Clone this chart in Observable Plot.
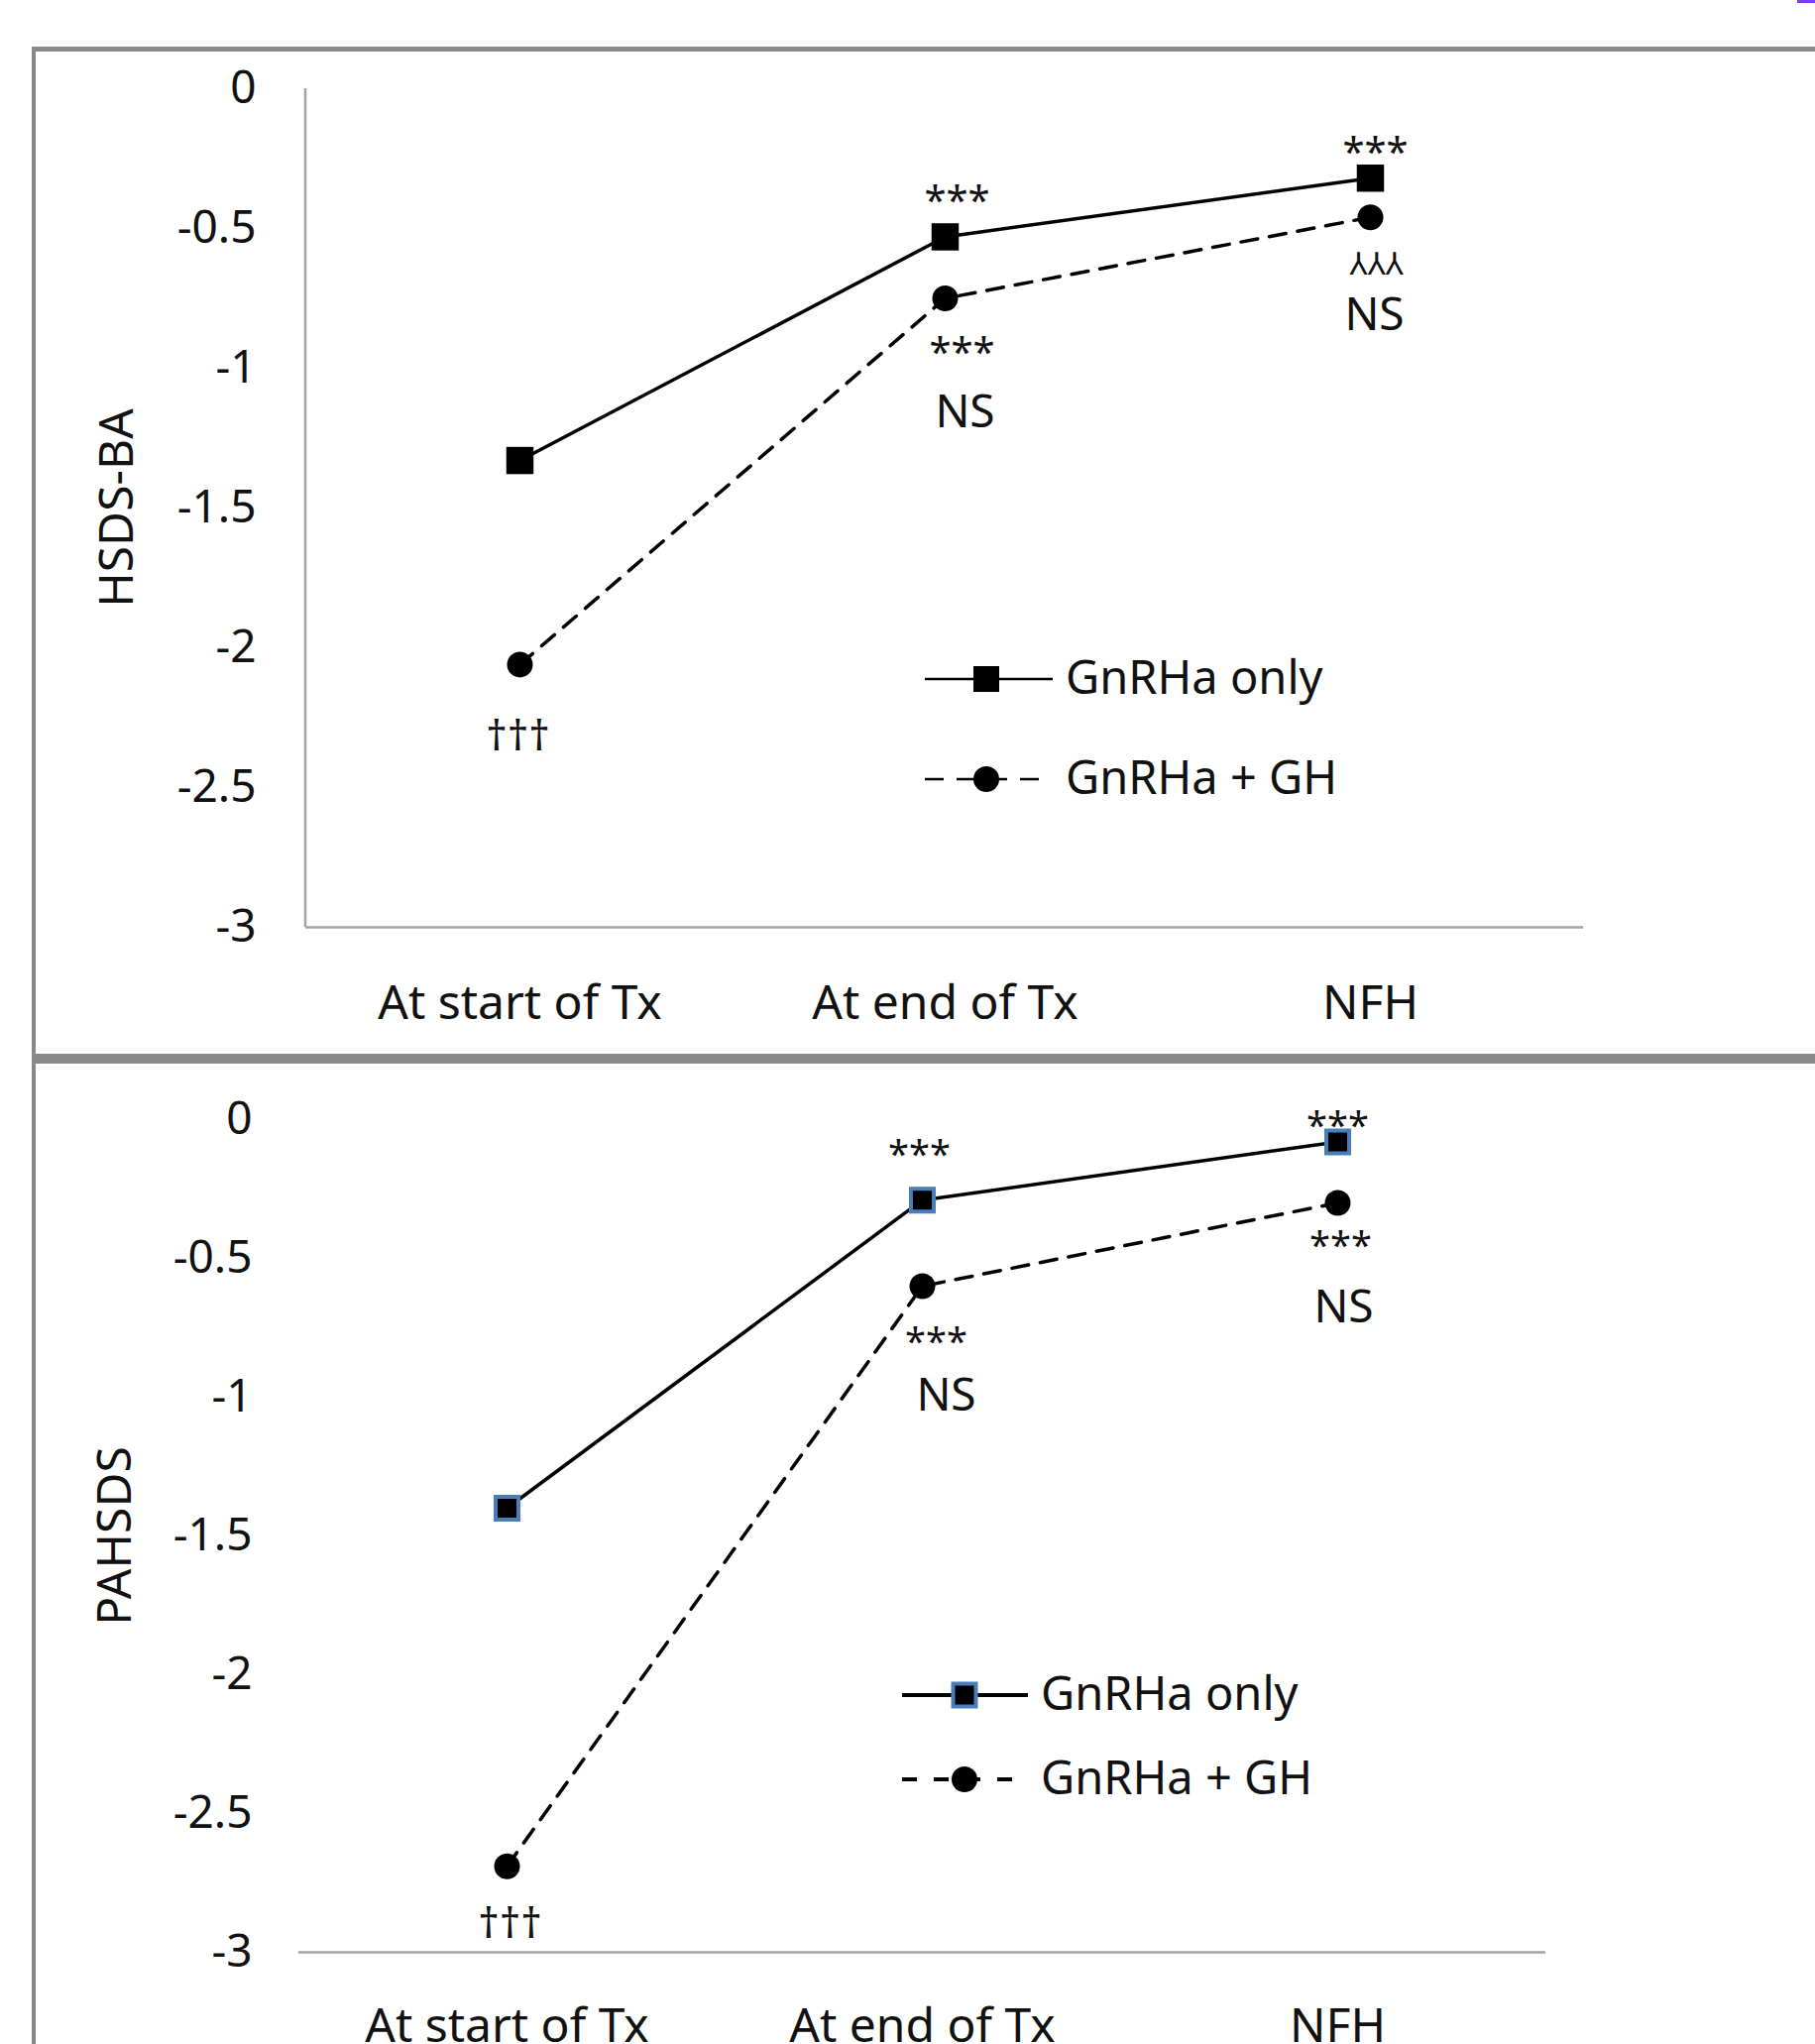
<!DOCTYPE html>
<html>
<head>
<meta charset="utf-8">
<script src="https://cdn.jsdelivr.net/npm/d3@7"></script>
<script src="https://cdn.jsdelivr.net/npm/@observablehq/plot@0.6"></script>
<style>
  html, body { margin: 0; padding: 0; background: #fff; width: 1831px; height: 2062px; overflow: hidden; }
  #page { position: relative; width: 1831px; height: 2062px; font-family: "Noto Sans", "DejaVu Sans", sans-serif; }
  .abs { position: absolute; }
  .frame { position: absolute; background: #898989; z-index: 3; }
</style>
</head>
<body>
<div id="page"></div>
<script>
// ---------------- data ----------------
const categories = ["At start of Tx", "At end of Tx", "NFH"];
const seriesNames = ["GnRHa only", "GnRHa + GH"];
const yTicks = [0, -0.5, -1, -1.5, -2, -2.5, -3];

// Panel 1: HSDS-BA
const hsdsTitle = "HSDS-BA";
const hsdsOnly = [-1.33, -0.53, -0.32];
const hsdsGH = [-2.06, -0.75, -0.46];
const hsdsOnlyAbove = ["", "***", "***"];
const hsdsGHBelow = ["†††", "***", "⅄⅄⅄"];
const hsdsGHNote = ["", "NS", "NS"];

// Panel 2: PAHSDS
const pahsdsTitle = "PAHSDS";
const pahsdsOnly = [-1.40, -0.29, -0.08];
const pahsdsGH = [-2.69, -0.60, -0.30];
const pahsdsOnlyAbove = ["", "***", "***"];
const pahsdsGHBelow = ["†††", "***", "***"];
const pahsdsGHNote = ["", "NS", "NS"];

// ---------------- helpers ----------------
const FONT = '"Noto Sans", "DejaVu Sans", sans-serif';
const INK = "#111";
const AXIS = "#a3a3a3";
const W = 1831;
const page = document.getElementById("page");

function rowsOf(only, gh, above, below, note) {
  return categories.map((cat, i) => ({cat, only: only[i], gh: gh[i], above: above[i], below: below[i], note: note[i]}));
}

function note(rows, yKey, textKey, cat, dx, dy, size) {
  return Plot.text(rows, {
    filter: d => d.cat === cat && d[textKey] !== "",
    x: "cat", y: yKey, text: textKey, dx, dy,
    fontSize: size, fill: INK, fontFamily: FONT
  });
}

function yAxisLine(index, scales, values, dims) {
  const l = document.createElementNS("http://www.w3.org/2000/svg", "line");
  l.setAttribute("x1", dims.marginLeft);
  l.setAttribute("x2", dims.marginLeft);
  l.setAttribute("y1", scales.y(0));
  l.setAttribute("y2", scales.y(-3));
  l.setAttribute("stroke", AXIS);
  l.setAttribute("stroke-width", 2.5);
  return l;
}

function panel(cfg) {
  const rows = cfg.rows;
  const marks = [
    Plot.ruleY([-3], {stroke: AXIS, strokeWidth: 2.5}),
    Plot.axisY({ticks: yTicks, tickSize: 0, tickPadding: cfg.tickPadY, tickFormat: d => String(d), fontSize: 46, fill: INK, label: null}),
    Plot.axisX({tickSize: 0, tickPadding: cfg.tickPadX, fontSize: 48, fill: INK, label: null}),
    Plot.text([cfg.title], {frameAnchor: "left", textAnchor: "middle", rotate: -90, dx: cfg.titleDx, text: d => d, fontSize: 48, fill: INK}),
    Plot.line(rows, {x: "cat", y: "only", stroke: "black", strokeWidth: 3.5}),
    Plot.line(rows, {x: "cat", y: "gh", stroke: "black", strokeWidth: 3.5, strokeDasharray: "17,12"}),
    Plot.dot(rows, {x: "cat", y: "gh", symbol: "circle", r: 13, fill: "black", stroke: "none"}),
    Plot.dot(rows, {x: "cat", y: "only", symbol: "square", r: cfg.squareR, fill: "black",
      stroke: cfg.squareStroke || "none", strokeWidth: cfg.squareStroke ? 4 : 0}),
    ...cfg.notes(rows)
  ];
  if (cfg.showYLine) marks.unshift(yAxisLine);
  const chart = Plot.plot({
    width: W, height: cfg.height,
    marginTop: cfg.mt, marginBottom: cfg.mb, marginLeft: cfg.ml, marginRight: cfg.mr,
    style: {fontFamily: FONT, fontSize: "46px", color: INK, background: "transparent", overflow: "visible"},
    x: {type: "point", domain: categories, padding: 0.5},
    y: {domain: [-3, 0]},
    marks
  });
  const wrap = document.createElement("div");
  wrap.className = "abs";
  wrap.style.left = "0px";
  wrap.style.top = cfg.top + "px";
  wrap.appendChild(chart);
  page.appendChild(wrap);
}

function legend(cfg) {
  const svg = d3.select(page).append("svg")
    .attr("class", "abs").attr("width", 520).attr("height", 200)
    .style("left", cfg.left + "px").style("top", cfg.top + "px").style("overflow", "visible");
  // row 1 : solid + square
  const r1 = 40, r2 = 40 + cfg.gap;
  svg.append("line").attr("x1", 0).attr("x2", cfg.lineLen).attr("y1", r1).attr("y2", r1)
    .attr("stroke", "black").attr("stroke-width", cfg.lw);
  svg.append("rect").attr("x", cfg.markX - cfg.sq / 2).attr("y", r1 - cfg.sq / 2)
    .attr("width", cfg.sq).attr("height", cfg.sq).attr("fill", "black")
    .attr("stroke", cfg.squareStroke || "none").attr("stroke-width", cfg.squareStroke ? 4 : 0);
  svg.append("text").attr("x", cfg.textX).attr("y", r1).attr("dy", "0.32em")
    .attr("font-family", FONT).attr("font-size", 47).attr("fill", INK).text(seriesNames[0]);
  // row 2 : dashed + circle
  svg.append("line").attr("x1", 0).attr("x2", cfg.dashLen).attr("y1", r2).attr("y2", r2)
    .attr("stroke", "black").attr("stroke-width", cfg.lw).attr("stroke-dasharray", cfg.dash);
  svg.append("circle").attr("cx", cfg.markX).attr("cy", r2).attr("r", 13).attr("fill", "black");
  svg.append("text").attr("x", cfg.textX).attr("y", r2).attr("dy", "0.32em")
    .attr("font-family", FONT).attr("font-size", 47).attr("fill", INK).text(seriesNames[1]);
}

// ---------------- panel 1 ----------------
panel({
  rows: rowsOf(hsdsOnly, hsdsGH, hsdsOnlyAbove, hsdsGHBelow, hsdsGHNote),
  title: hsdsTitle, top: 0, height: 1063,
  mt: 89, mb: 128, ml: 308, mr: 234,
  tickPadY: 50, tickPadX: 58, titleDx: -190, showYLine: true, squareR: 15.5,
  notes: rows => [
    note(rows, "only", "above", categories[1], 12, -36, 40),
    note(rows, "only", "above", categories[2], 5, -26, 40),
    note(rows, "gh", "below", categories[0], -2, 73, 42),
    note(rows, "gh", "below", categories[1], 17, 55, 40),
    note(rows, "gh", "below", categories[2], 6, 48, 32),
    note(rows, "gh", "note", categories[1], 20, 115, 46),
    note(rows, "gh", "note", categories[2], 4, 99, 46)
  ]
});

// ---------------- panel 2 ----------------
panel({
  rows: rowsOf(pahsdsOnly, pahsdsGH, pahsdsOnlyAbove, pahsdsGHBelow, pahsdsGHNote),
  title: pahsdsTitle, top: 1068, height: 994,
  mt: 61, mb: 93, ml: 301, mr: 272,
  tickPadY: 47, tickPadX: 56, titleDx: -185, showYLine: false, squareR: 13,
  squareStroke: "#4a7ebb",
  notes: rows => [
    note(rows, "only", "above", categories[1], -3, -45, 38),
    note(rows, "only", "above", categories[2], 0, -15, 38),
    note(rows, "gh", "below", categories[0], 3, 59, 42),
    note(rows, "gh", "below", categories[1], 14, 57, 38),
    note(rows, "gh", "below", categories[2], 3, 44, 38),
    note(rows, "gh", "note", categories[1], 24, 111, 46),
    note(rows, "gh", "note", categories[2], 6, 106, 46)
  ]
});

// ---------------- legends ----------------
legend({left: 933, top: 645, gap: 101, lineLen: 129, dashLen: 117, markX: 62, textX: 142,
        sq: 26, lw: 2.5, dash: "19,13"});
legend({left: 910, top: 1670, gap: 85, lineLen: 127, dashLen: 117, markX: 63, textX: 140,
        sq: 23, lw: 4, dash: "15,17", squareStroke: "#4a7ebb"});

// ---------------- frame ----------------
[[32, 47, 1799, 5], [32, 47, 4, 2015], [32, 1063, 1799, 10]].forEach(([x, y, w, h]) => {
  const d = document.createElement("div");
  d.className = "frame";
  Object.assign(d.style, {left: x + "px", top: y + "px", width: w + "px", height: h + "px"});
  page.appendChild(d);
});
const corner = document.createElement("div");
Object.assign(corner.style, {position: "absolute", left: "1813px", top: "0px", width: "18px", height: "3px", background: "#7b3cff"});
page.appendChild(corner);
</script>
</body>
</html>
